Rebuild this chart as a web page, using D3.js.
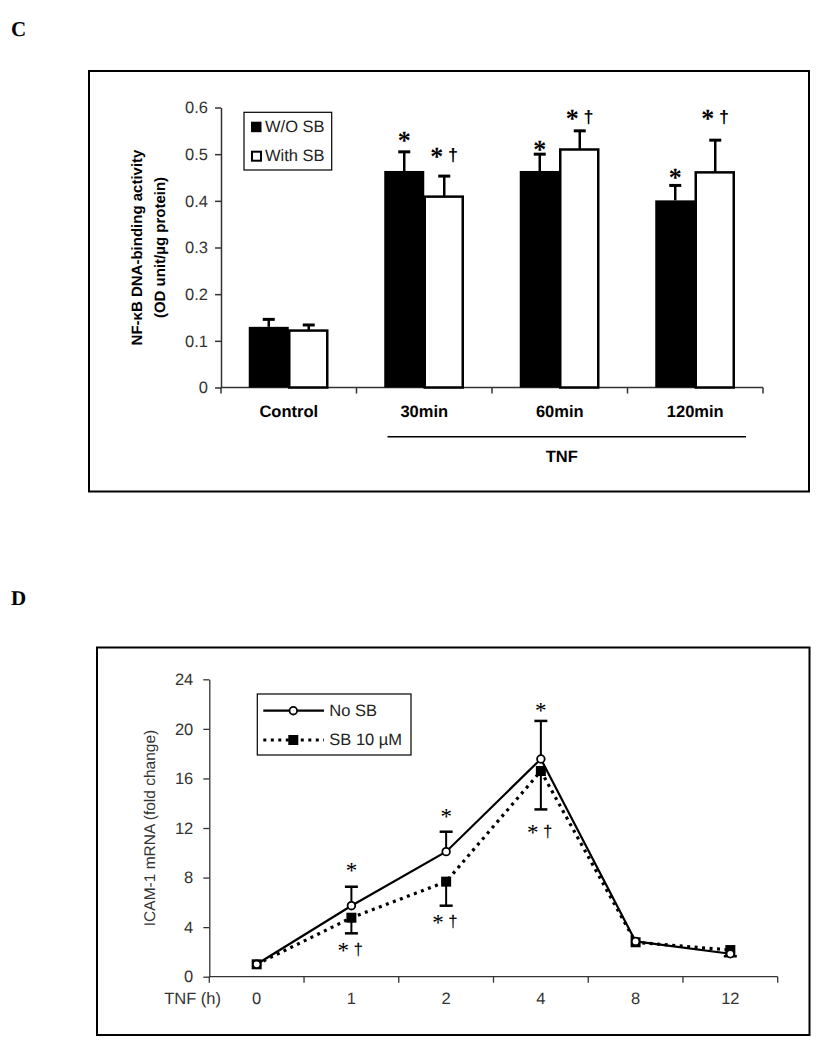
<!DOCTYPE html>
<html><head><meta charset="utf-8">
<script src="https://cdn.jsdelivr.net/npm/d3@7"></script>
<style>body{margin:0;background:#fff} text{text-rendering:geometricPrecision}</style>
</head><body><svg id="chart" width="825" height="1044"></svg>
<script>
// ---------- Panel C data ----------
const categoriesC = ["Control", "30min", "60min", "120min"];
const seriesC = ["W/O SB", "With SB"];
const valuesWO = [0.130, 0.464, 0.464, 0.401];
const errWO = [0.016, 0.041, 0.036, 0.032];
const valuesWith = [0.122, 0.409, 0.510, 0.461];
const errWith = [0.012, 0.044, 0.040, 0.069];
const annWO = ["", "*", "*", "*"];
const annWOAt = [null, 0.548, 0.528, 0.4675];
const annWith = ["", "*†", "*†", "*†"];
const annWithAt = [null, 0.5126, 0.5946, 0.5946];
const yTicksC = [0, 0.1, 0.2, 0.3, 0.4, 0.5, 0.6];
const yTitleC = ["NF-κB DNA-binding activity", "(OD unit/µg protein)"];
const groupLabelC = "TNF";

// ---------- Panel D data ----------
const timesD = ["0", "1", "2", "4", "8", "12"];
const seriesD = ["No SB", "SB 10 µM"];
const noSB = [1.0, 5.73, 10.09, 17.57, 2.85, 1.85];
const noSBErr = [0, 1.53, 1.61, 3.07, 0, 0];
const sb10 = [1.0, 4.76, 7.67, 16.6, 2.78, 2.15];
const sb10Err = [0, 1.26, 1.94, 3.1, 0, 0.5];
const annNoSB = ["", "*", "*", "*", "", ""];
const annNoSBAt = [null, 9.18, 13.53, 22.09, null, null];
const annSB = ["", "*†", "*†", "*†", "", ""];
const annSBAt = [null, 2.72, 4.98, 12.24, null, null];
const yTicksD = [0, 4, 8, 12, 16, 20, 24];
const yTitleD = "ICAM-1 mRNA (fold change)";
const xTitleD = "TNF (h)";

const svg = d3.select("#chart");
svg.append("rect").attr("width", 825).attr("height", 1044).attr("fill", "#fff");
const SANS = "'Liberation Sans', Arial, sans-serif";
const SERIF = "'Liberation Serif', 'Times New Roman', serif";

// Panel letters
svg.append("text").attr("x", 11).attr("y", 35.5).attr("font-family", SERIF).attr("font-weight", "bold")
  .attr("font-size", 21).text("C");
svg.append("text").attr("x", 11).attr("y", 605).attr("font-family", SERIF).attr("font-weight", "bold")
  .attr("font-size", 21).text("D");

// helper: annotation (star + optional dagger), top-aligned at `top`
function annot(g, x, top, txt, starSize, dagSize, bold) {
  if (!txt) return;
  const hasDag = txt.length > 1;
  const starX = hasDag ? x - dagSize * 0.3 : x;
  g.append("text").attr("x", starX).attr("y", top + starSize * 0.66)
    .attr("text-anchor", "middle").attr("font-family", SERIF)
    .attr("font-weight", bold ? "bold" : "normal").attr("font-size", starSize).attr("fill", "#000").text("*");
  if (hasDag) {
    g.append("text").attr("x", starX + starSize * 0.22 + dagSize * 0.3).attr("y", top + dagSize * 0.72)
      .attr("text-anchor", "start").attr("font-family", SANS)
      .attr("font-weight", bold ? "bold" : "normal").attr("font-size", dagSize).attr("fill", "#000").text("†");
  }
}

// ================= Panel C =================
{
  const g = svg.append("g");
  g.append("rect").attr("x", 89).attr("y", 71).attr("width", 720).attr("height", 420.5)
    .attr("fill", "none").attr("stroke", "#000").attr("stroke-width", 2);

  const y = d3.scaleLinear().domain([0, 0.6]).range([387.5, 107.5]);
  const x = d3.scaleBand().domain(categoriesC).range([221, 763]).paddingInner(0).paddingOuter(0);
  const xs = d3.scaleBand().domain(seriesC).range([0, 80]);
  const off = (x.bandwidth() - 80) / 2;

  // y axis
  const ya = g.append("g").attr("transform", "translate(221,0)")
    .call(d3.axisLeft(y).tickValues(yTicksC).tickSize(6).tickSizeOuter(0).tickPadding(7)
      .tickFormat(d => d === 0 ? "0" : d3.format(".1f")(d)));
  ya.select(".domain").attr("stroke", "#333").attr("stroke-width", 1.5);
  ya.selectAll(".tick line").attr("stroke", "#333").attr("stroke-width", 1.5);
  ya.selectAll(".tick text").attr("font-family", SANS).attr("font-size", 16.5).attr("fill", "#333");

  // x axis baseline with boundary ticks
  const xa = g.append("g").attr("transform", "translate(0,387.5)");
  xa.append("line").attr("x1", x.range()[0]).attr("x2", x.range()[1]).attr("stroke", "#333").attr("stroke-width", 1.5);
  const bounds = categoriesC.map(c => x(c)).concat([x.range()[1]]);
  xa.selectAll("line.tk").data(bounds).join("line").attr("class", "tk")
    .attr("x1", d => d).attr("x2", d => d).attr("y1", 0).attr("y2", 6)
    .attr("stroke", "#333").attr("stroke-width", 1.5);
  xa.selectAll("text").data(categoriesC).join("text")
    .attr("x", d => x(d) + x.bandwidth() / 2).attr("y", 24)
    .attr("text-anchor", "middle").attr("dominant-baseline", "central")
    .attr("font-family", SANS).attr("font-weight", "bold").attr("font-size", 16.5).text(d => d);

  // bars
  const seriesData = [
    {name: seriesC[0], vals: valuesWO, errs: errWO, fill: "#000", ann: annWO, annAt: annWOAt},
    {name: seriesC[1], vals: valuesWith, errs: errWith, fill: "#fff", ann: annWith, annAt: annWithAt}
  ];
  seriesData.forEach(s => {
    categoriesC.forEach((c, i) => {
      const bx = x(c) + off + xs(s.name);
      const bw = xs.bandwidth();
      const cx = bx + bw / 2;
      g.append("line").attr("x1", cx).attr("x2", cx).attr("y1", y(s.vals[i])).attr("y2", y(s.vals[i] + s.errs[i]))
        .attr("stroke", "#000").attr("stroke-width", 2.5);
      g.append("line").attr("x1", cx - 6).attr("x2", cx + 6).attr("y1", y(s.vals[i] + s.errs[i])).attr("y2", y(s.vals[i] + s.errs[i]))
        .attr("stroke", "#000").attr("stroke-width", 3);
      if (s.fill === "#000") {
        g.append("rect").attr("x", bx).attr("y", y(s.vals[i])).attr("width", bw).attr("height", y(0) - y(s.vals[i]))
          .attr("fill", "#000");
      } else {
        g.append("rect").attr("x", bx + 0.5).attr("y", y(s.vals[i])).attr("width", bw - 2).attr("height", y(0) - y(s.vals[i]))
          .attr("fill", "#fff").attr("stroke", "#000").attr("stroke-width", 2.5);
      }
      if (s.ann[i]) annot(g, cx - (s.ann[i].length > 1 ? 2 : 0), y(s.annAt[i]), s.ann[i], 26, 18, true);
    });
  });

  // TNF grouping line
  g.append("line").attr("x1", x("30min") + 31).attr("x2", x("120min") + x.bandwidth() - 17)
    .attr("y1", 436.7).attr("y2", 436.7).attr("stroke", "#000").attr("stroke-width", 1.5);
  g.append("text").attr("x", 561.7).attr("y", 456.7).attr("text-anchor", "middle").attr("dominant-baseline", "central")
    .attr("font-family", SANS).attr("font-weight", "bold").attr("font-size", 16.5).text(groupLabelC);

  // y title
  yTitleC.forEach((t, i) => {
    g.append("text").attr("transform", `translate(${137 + i * 23},247.5) rotate(-90)`)
      .attr("text-anchor", "middle").attr("dominant-baseline", "central")
      .attr("font-family", SANS).attr("font-weight", "bold").attr("font-size", 15).text(t);
  });

  // legend
  const lg = g.append("g");
  lg.append("rect").attr("x", 244).attr("y", 112.3).attr("width", 87.7).attr("height", 57.7)
    .attr("fill", "#fff").attr("stroke", "#000").attr("stroke-width", 1.2);
  seriesData.forEach((s, i) => {
    const cy = 126.7 + i * 29;
    if (s.fill === "#000") {
      lg.append("rect").attr("x", 251).attr("y", cy - 5).attr("width", 10.5).attr("height", 10.5).attr("fill", "#000");
    } else {
      lg.append("rect").attr("x", 252).attr("y", cy - 4).attr("width", 9).attr("height", 9)
        .attr("fill", "#fff").attr("stroke", "#000").attr("stroke-width", 2);
    }
    lg.append("text").attr("x", 265).attr("y", cy).attr("dominant-baseline", "central")
      .attr("font-family", SANS).attr("font-size", 16.5).attr("fill", "#222").text(s.name);
  });
}

// ================= Panel D =================
{
  const g = svg.append("g");
  g.append("rect").attr("x", 97).attr("y", 647.5).attr("width", 712.5).attr("height", 387.5)
    .attr("fill", "none").attr("stroke", "#000").attr("stroke-width", 2);

  const y = d3.scaleLinear().domain([0, 24]).range([976.7, 679.3]);
  const x = d3.scaleBand().domain(timesD).range([209.3, 777.7]).paddingInner(0).paddingOuter(0);
  const cx = d => x(d) + x.bandwidth() / 2;

  const ya = g.append("g").attr("transform", "translate(209.3,0)")
    .call(d3.axisLeft(y).tickValues(yTicksD).tickSize(6).tickSizeOuter(0).tickPadding(10));
  ya.select(".domain").attr("stroke", "#333").attr("stroke-width", 1.3);
  ya.selectAll(".tick line").attr("stroke", "#333").attr("stroke-width", 1.3);
  ya.selectAll(".tick text").attr("font-family", SANS).attr("font-size", 16.5).attr("fill", "#333");

  const xa = g.append("g").attr("transform", "translate(0,976.7)");
  xa.append("line").attr("x1", x.range()[0]).attr("x2", x.range()[1]).attr("stroke", "#333").attr("stroke-width", 1.3);
  const bounds = timesD.map(c => x(c)).concat([x.range()[1]]);
  xa.selectAll("line.tk").data(bounds).join("line").attr("class", "tk")
    .attr("x1", d => d).attr("x2", d => d).attr("y1", 0).attr("y2", 6)
    .attr("stroke", "#333").attr("stroke-width", 1.3);
  xa.selectAll("text.tl").data(timesD).join("text").attr("class", "tl")
    .attr("x", d => cx(d)).attr("y", 22.5).attr("text-anchor", "middle").attr("dominant-baseline", "central")
    .attr("font-family", SANS).attr("font-size", 16.5).attr("fill", "#333").text(d => d);
  xa.append("text").attr("x", 221).attr("y", 22.5).attr("text-anchor", "end").attr("dominant-baseline", "central")
    .attr("font-family", SANS).attr("font-size", 16.5).attr("fill", "#333").text(xTitleD);

  g.append("text").attr("transform", "translate(150,828) rotate(-90)")
    .attr("text-anchor", "middle").attr("dominant-baseline", "central")
    .attr("font-family", SANS).attr("font-size", 15.5).attr("fill", "#333").text(yTitleD);

  const line = d3.line().x((d, i) => cx(timesD[i])).y(d => y(d));

  timesD.forEach((t, i) => {
    if (noSBErr[i] > 0) {
      g.append("line").attr("x1", cx(t)).attr("x2", cx(t)).attr("y1", y(noSB[i])).attr("y2", y(noSB[i] + noSBErr[i]))
        .attr("stroke", "#000").attr("stroke-width", 2);
      g.append("line").attr("x1", cx(t) - 6.5).attr("x2", cx(t) + 6.5).attr("y1", y(noSB[i] + noSBErr[i])).attr("y2", y(noSB[i] + noSBErr[i]))
        .attr("stroke", "#000").attr("stroke-width", 2.5);
    }
    if (sb10Err[i] > 0) {
      g.append("line").attr("x1", cx(t)).attr("x2", cx(t)).attr("y1", y(sb10[i])).attr("y2", y(sb10[i] - sb10Err[i]))
        .attr("stroke", "#000").attr("stroke-width", 2);
      g.append("line").attr("x1", cx(t) - 6.5).attr("x2", cx(t) + 6.5).attr("y1", y(sb10[i] - sb10Err[i])).attr("y2", y(sb10[i] - sb10Err[i]))
        .attr("stroke", "#000").attr("stroke-width", 2.5);
    }
  });

  g.append("path").datum(sb10).attr("d", line).attr("fill", "none").attr("stroke", "#000")
    .attr("stroke-width", 3.2).attr("stroke-dasharray", "3,4.5");
  g.append("path").datum(noSB).attr("d", line).attr("fill", "none").attr("stroke", "#000").attr("stroke-width", 2.2);

  g.selectAll("rect.sq").data(sb10).join("rect").attr("class", "sq")
    .attr("x", (d, i) => cx(timesD[i]) - 5).attr("y", d => y(d) - 5).attr("width", 10).attr("height", 10).attr("fill", "#000");
  g.selectAll("circle.ci").data(noSB).join("circle").attr("class", "ci")
    .attr("cx", (d, i) => cx(timesD[i])).attr("cy", d => y(d)).attr("r", 3.8)
    .attr("fill", "#fff").attr("stroke", "#000").attr("stroke-width", 1.8);

  timesD.forEach((t, i) => {
    if (annNoSB[i]) annot(g, cx(t), y(annNoSBAt[i]), annNoSB[i], 23, 17, false);
    if (annSB[i]) annot(g, cx(t) - 3, y(annSBAt[i]), annSB[i], 23, 17, false);
  });

  // legend
  const lg = g.append("g");
  lg.append("rect").attr("x", 257.3).attr("y", 694).attr("width", 153.7).attr("height", 61)
    .attr("fill", "#fff").attr("stroke", "#000").attr("stroke-width", 1.2);
  const r1 = 710.7, r2 = 740;
  lg.append("line").attr("x1", 263.3).attr("x2", 324).attr("y1", r1).attr("y2", r1).attr("stroke", "#000").attr("stroke-width", 2.2);
  lg.append("circle").attr("cx", 293.3).attr("cy", r1).attr("r", 3.8).attr("fill", "#fff").attr("stroke", "#000").attr("stroke-width", 1.8);
  lg.append("line").attr("x1", 263.3).attr("x2", 324).attr("y1", r2).attr("y2", r2).attr("stroke", "#000")
    .attr("stroke-width", 3.2).attr("stroke-dasharray", "3,4.5");
  lg.append("rect").attr("x", 288.3).attr("y", r2 - 5).attr("width", 10).attr("height", 10).attr("fill", "#000");
  seriesD.forEach((s, i) => {
    lg.append("text").attr("x", 329.3).attr("y", i ? r2 : r1).attr("dominant-baseline", "central")
      .attr("font-family", SANS).attr("font-size", 16.5).attr("fill", "#222").text(s);
  });
}
</script></body></html>
